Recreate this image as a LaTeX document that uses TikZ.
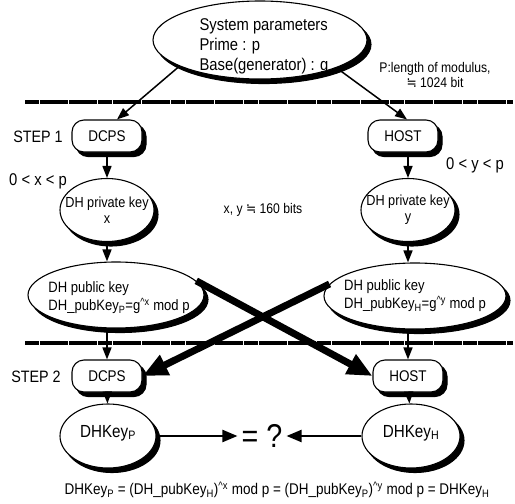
\documentclass[tikz,border=0pt]{standalone}
\usepackage{fontspec}
\setmainfont{Liberation Sans}[FakeStretch=0.87]
\newfontfamily\symfont{DejaVu Sans}[FakeStretch=0.87]
\usetikzlibrary{shapes.geometric,arrows.meta}
\newcommand\myfs[2]{\fontsize{#1}{#2}\selectfont}
\newcommand\apx{{\symfont ≒}}
\newcommand\crt{\textasciicircum}
% shadow + ellipse: name, x, y, width, height, label options, text
\newcommand\shell[7]{%
  \node[ellshadow,minimum width=#4pt,minimum height=#5pt] (#1s) at (#2+4,#3+4.5) {};
  \node[ell,minimum width=#4pt,minimum height=#5pt,label={[#6]center:{#7}}] (#1) at (#2,#3) {};}
% shadow + rounded box: name, x, y, text
\newcommand\shbox[4]{%
  \node[stepboxshadow] (#1s) at (#2+4,#3+4.5) {};
  \node[stepbox] (#1) at (#2,#3) {#4};}
\begin{document}
\begin{tikzpicture}[x=1pt,y=-1pt,
  ellshadow/.style={ellipse,draw=black,fill=black,line width=1.1pt,inner sep=0pt},
  ell/.style={ellipse,draw,line width=1.1pt,fill=white,inner sep=0pt},
  stepboxshadow/.style={draw=black,fill=black,line width=1.1pt,rounded corners=12pt,minimum width=70pt,minimum height=32pt,inner sep=0pt},
  stepbox/.style={draw,line width=1.1pt,fill=white,rounded corners=12pt,minimum width=70pt,minimum height=32pt,inner sep=0pt,font=\myfs{15.5}{18}},
  txt/.style={align=center,inner sep=0pt,font=\myfs{14.6}{16}},
  ktxt/.style={inner sep=0pt,font=\myfs{17.5}{18}},
  ptxt/.style={align=left,inner sep=0pt,font=\myfs{15}{18}},
  systxt/.style={align=left,inner sep=0pt,font=\myfs{17}{20}},
  lbl/.style={inner sep=0pt,font=\myfs{16.5}{20}},
  note/.style={inner sep=0pt,align=center,font=\myfs{14}{15}},
  arr/.style={-{Triangle[length=12pt,width=9pt]},line width=1.5pt},
  keyarr/.style={-{Triangle[length=15pt,width=12pt]},line width=2.2pt},
  bigarr/.style={-{Triangle[length=25pt,width=21pt]},line width=7pt},
  sep/.style={line width=4pt,dash pattern=on 14pt off 0.6pt}
]
\useasboundingbox (0,0) rectangle (515,504);

% separator lines
\coordinate (s1a) at (25,102); \coordinate (s1b) at (513,102);
\coordinate (s2a) at (25,343); \coordinate (s2b) at (513,343);
\draw[sep] (s1a) -- (s1b);
\draw[sep] (s2a) -- (s2b);

% top ellipse
\shell{sys}{260}{40}{214}{78}{systxt,xshift=4pt,yshift=-6pt}{System parameters\\Prime : p\\Base(generator) : g}
\node[note] (modlen) at (435,75) {P:length of modulus,\\\apx{} 1024 bit};

% step 1
\node[lbl] (step1) at (38,137) {STEP 1};
\shbox{dcps1}{107}{136}{DCPS}
\shbox{host1}{403}{136}{HOST}
\node[lbl,font=\myfs{17}{18}] (xr) at (38,181) {0 < x < p};
\node[lbl,font=\myfs{17}{18}] (yr) at (475,165) {0 < y < p};

\shell{privX}{107}{210}{94}{63}{txt}{DH private key\\x}
\shell{privY}{408}{210}{94}{63}{txt}{DH private key\\y}
\node[note] (bits) at (263,210) {x, y \apx{} 160 bits};

\shell{pubP}{116}{295}{176}{66}{ptxt,xshift=3pt,yshift=-3pt}{DH public key\\DH\_pubKey\textsubscript{P}=g\textsuperscript{\crt x} mod p}
\shell{pubH}{415}{296}{182}{66}{ptxt}{DH public key\\DH\_pubKey\textsubscript{H}=g\textsuperscript{\crt y} mod p}

% step 2
\node[lbl] (step2) at (36,377) {STEP 2};
\shbox{dcps2}{107}{376}{DCPS}
\shbox{host2}{408}{376}{HOST}

\shell{keyP}{108}{436}{96}{64}{ktxt,yshift=3pt}{DHKey\textsubscript{P}}
\shell{keyH}{411}{436}{98}{64}{ktxt,yshift=3pt}{DHKey\textsubscript{H}}
\node[inner sep=4pt,font=\myfs{33}{36}] (eq) at (262,436) {= ?};

\node[inner sep=0pt,font=\myfs{15.5}{18}] (formula) at (277,490)
  {DHKey\textsubscript{P} = (DH\_pubKey\textsubscript{H})\textsuperscript{\crt x} mod p = (DH\_pubKey\textsubscript{P})\textsuperscript{\crt y} mod p = DHKey\textsubscript{H}};

% connectors
\draw[arr] (sys.198) -- ([xshift=10pt]dcps1.north);
\draw[arr] (sys.340) -- ([xshift=4pt]host1.north);
\draw[arr] (dcps1) -- (privX);
\draw[arr] (host1.south -| privY.north) -- (privY);
\draw[arr] (privX.south) -- (privX.south |- pubP.north);
\draw[arr] (privY.south) -- (privY.south |- pubH.north);
\draw[arr] (pubP.south -| dcps2.north) -- (dcps2.north);
\draw[arr] (pubH.south -| host2.north) -- (host2.north);
\draw[arr] (dcps2) -- (keyP);
\draw[arr] (host2) -- (keyH);
\draw[keyarr] (keyP) -- (eq);
\draw[keyarr] (keyH) -- (eq);
\draw[bigarr] (pubP.10) -- (host2.west);
\draw[bigarr] (pubH.172) -- (dcps2.east);
\end{tikzpicture}
\end{document}
